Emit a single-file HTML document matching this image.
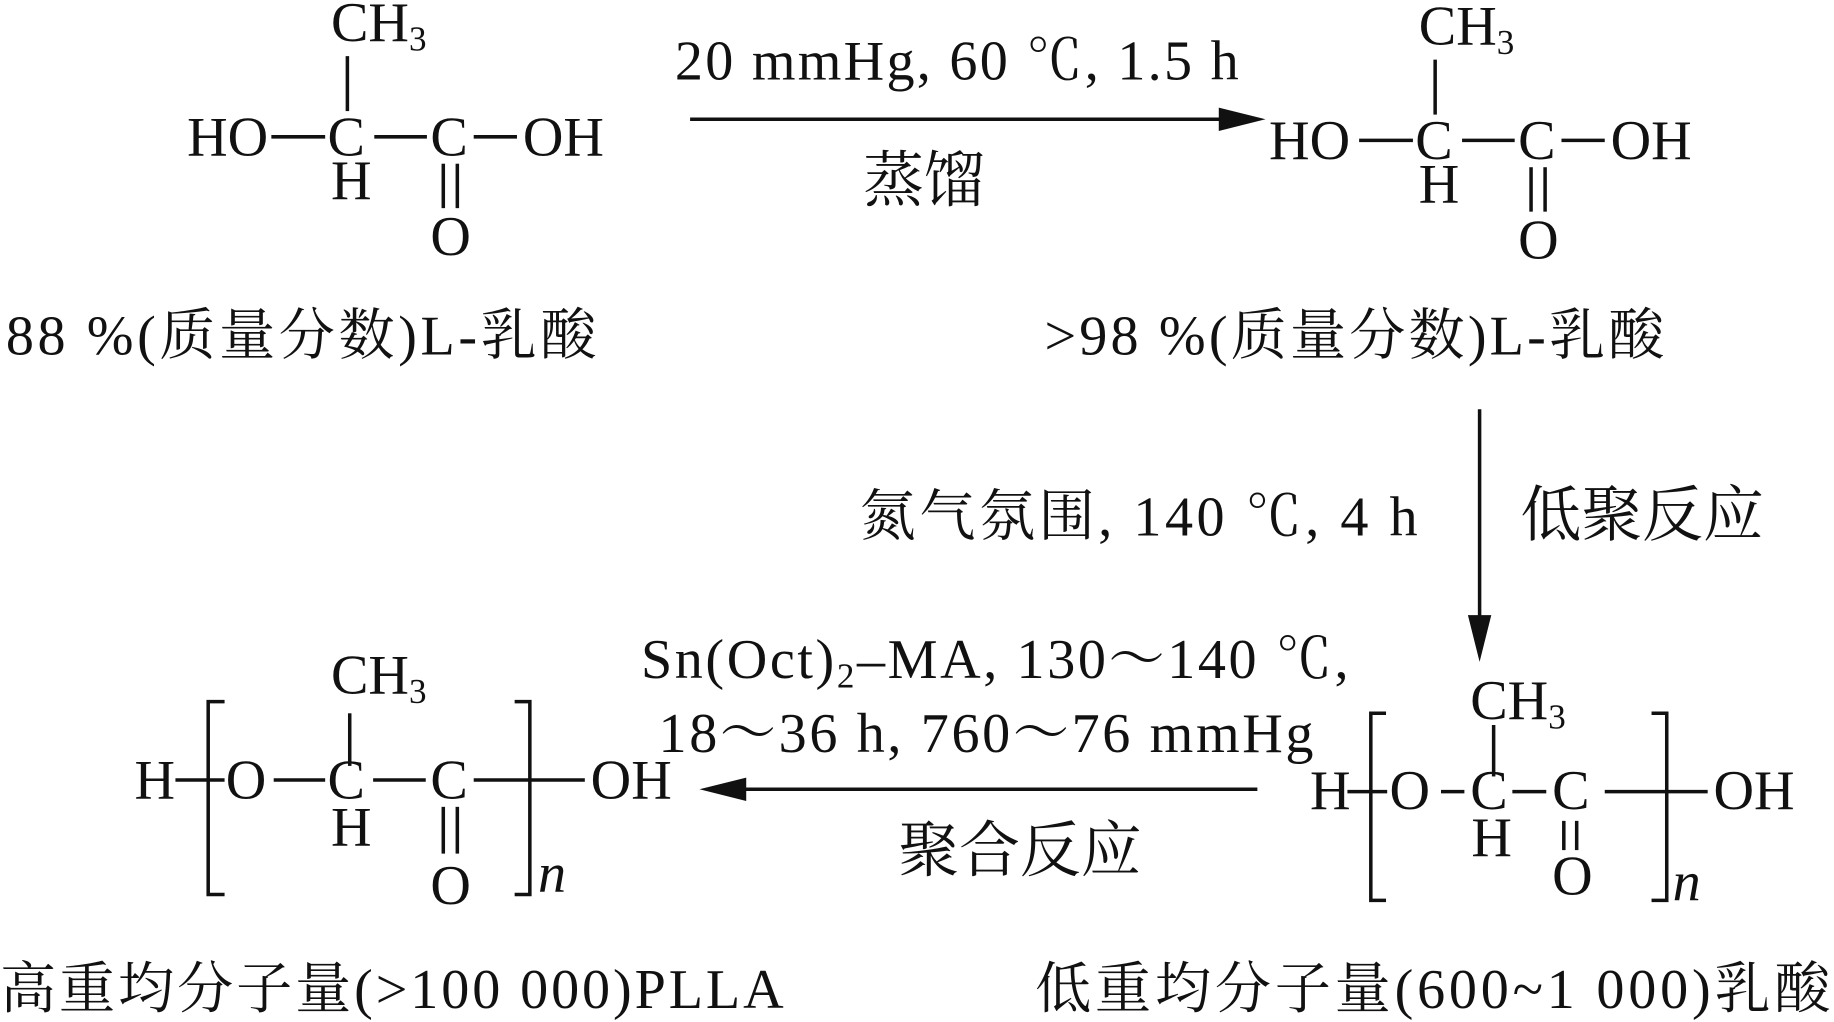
<!DOCTYPE html>
<html><head><meta charset="utf-8"><style>
html,body{margin:0;padding:0;background:#fff;}
svg{display:block;}
text{font-family:"Liberation Serif","Noto Serif CJK SC",serif;font-size:48px;fill:#111;}
.cj{font-size:52px;}
</style></head><body>
<svg width="1834" height="1022" viewBox="0 0 1568 874" preserveAspectRatio="none" xmlns="http://www.w3.org/2000/svg">
<g stroke="#111" stroke-width="3" fill="none">
<line x1="297" y1="48" x2="297" y2="95"/>
<line x1="232" y1="117" x2="278" y2="117"/>
<line x1="320" y1="117" x2="365" y2="117"/>
<line x1="405" y1="117" x2="442" y2="117"/>
<line x1="379" y1="140" x2="379" y2="178"/><line x1="391" y1="140" x2="391" y2="178"/>
<g transform="translate(930,3)">
<line x1="297" y1="48" x2="297" y2="95"/>
<line x1="232" y1="117" x2="278" y2="117"/>
<line x1="320" y1="117" x2="365" y2="117"/>
<line x1="405" y1="117" x2="442" y2="117"/>
<line x1="379" y1="140" x2="379" y2="178"/><line x1="391" y1="140" x2="391" y2="178"/>
</g>
<line x1="590" y1="102" x2="1055" y2="102"/>
<line x1="1265" y1="350" x2="1265" y2="540"/>
<line x1="1075" y1="675" x2="630" y2="675"/>
<line x1="1152" y1="677" x2="1186" y2="677"/>
<polyline points="1185,610 1172,610 1172,770 1185,770"/>
<line x1="1232" y1="677" x2="1252" y2="677"/>
<line x1="1277" y1="620" x2="1277" y2="664"/>
<line x1="1293" y1="677" x2="1322" y2="677"/>
<line x1="1372" y1="677" x2="1460" y2="677"/>
<polyline points="1412,610 1425,610 1425,770 1412,770"/>
<line x1="1337" y1="702" x2="1337" y2="727"/><line x1="1348" y1="702" x2="1348" y2="727"/>
<line x1="150" y1="667" x2="192" y2="667"/>
<polyline points="192,600 178,600 178,765 192,765"/>
<line x1="234" y1="667" x2="278" y2="667"/>
<line x1="299" y1="610" x2="299" y2="655"/>
<line x1="319" y1="667" x2="364" y2="667"/>
<line x1="405" y1="667" x2="500" y2="667"/>
<polyline points="440,600 453,600 453,765 440,765"/>
<line x1="379" y1="690" x2="379" y2="730"/><line x1="391" y1="690" x2="391" y2="730"/>
</g>
<g fill="#111">
<polygon points="1082,102 1042,92 1042,112"/>
<polygon points="1265,566 1255,526 1275,526"/>
<polygon points="598,675 638,665 638,685"/>
</g>
<text x="283" y="35">CH<tspan font-size="30" dy="8">3</tspan></text>
<text x="160" y="133">HO</text>
<text x="280" y="133">C</text>
<text x="368" y="133">C</text>
<text x="447" y="133">OH</text>
<text x="283" y="170">H</text>
<text x="368" y="218">O</text>
<g transform="translate(930,3)">
<text x="283" y="35">CH<tspan font-size="30" dy="8">3</tspan></text>
<text x="155" y="133">HO</text>
<text x="280" y="133">C</text>
<text x="368" y="133">C</text>
<text x="447" y="133">OH</text>
<text x="283" y="170">H</text>
<text x="368" y="218">O</text>
</g>
<text x="577" y="68" textLength="482">20 mmHg, 60 ℃, 1.5 h</text>
<text class="cj" x="738" y="172">蒸馏</text>
<text x="5" y="303" textLength="505">88 %(质量分数)L-乳酸</text>
<text x="893" y="303" textLength="530">&gt;98 %(质量分数)L-乳酸</text>
<text x="735" y="458" textLength="477">氮气氛围, 140 ℃, 4 h</text>
<text class="cj" x="1300" y="458">低聚反应</text>
<text x="548" y="580" textLength="605">Sn(Oct)<tspan font-size="30" dy="8">2</tspan><tspan dy="-8">–MA, 130～140 ℃,</tspan></text>
<text x="563" y="643" textLength="560">18～36 h, 760～76 mmHg</text>
<text class="cj" x="768" y="745">聚合反应</text>
<text x="1120" y="692">H</text>
<text x="1188" y="692">O</text>
<text x="1257" y="692">C</text>
<text x="1327" y="692">C</text>
<text x="1465" y="692">OH</text>
<text x="1257" y="615">CH<tspan font-size="30" dy="8">3</tspan></text>
<text x="1258" y="732">H</text>
<text x="1327" y="765">O</text>
<text x="1430" y="770" font-style="italic">n</text>
<text x="115" y="683">H</text>
<text x="193" y="683">O</text>
<text x="280" y="683">C</text>
<text x="368" y="683">C</text>
<text x="505" y="683">OH</text>
<text x="283" y="593">CH<tspan font-size="30" dy="8">3</tspan></text>
<text x="283" y="723">H</text>
<text x="368" y="773">O</text>
<text x="460" y="763" font-style="italic">n</text>
<text x="0" y="862" textLength="670">高重均分子量(&gt;100 000)PLLA</text>
<text x="885" y="862" textLength="680">低重均分子量(600~1 000)乳酸</text>
</svg>
</body></html>
